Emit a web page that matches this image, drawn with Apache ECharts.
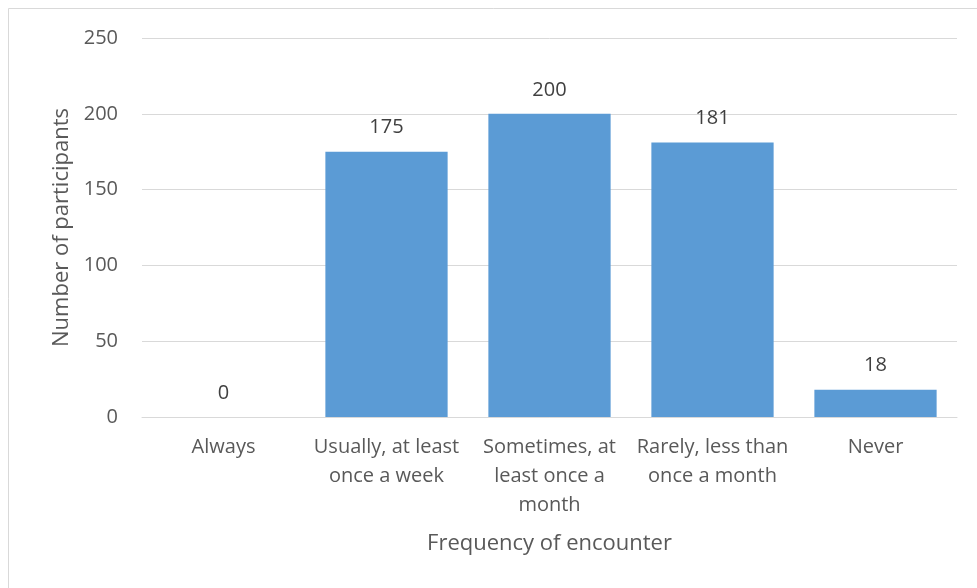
<!DOCTYPE html>
<html>
<head>
<meta charset="utf-8">
<script src="https://cdn.jsdelivr.net/npm/echarts@6/dist/echarts.min.js"></script>
<style>
  html, body { margin: 0; padding: 0; background: #fff; }
  #chart { width: 977px; height: 588px; }
</style>
</head>
<body>
<div id="chart"></div>
<script>
// Survey responses: how often participants encountered the situation
const categories = [
  'Always',
  'Usually, at least\nonce a week',
  'Sometimes, at\nleast once a\nmonth',
  'Rarely, less than\nonce a month',
  'Never'
];
const participants = [0, 175, 200, 181, 18];
const yTicks = { min: 0, max: 250, interval: 50 };

const font = 'Open Sans, Noto Sans, sans-serif';
const chart = echarts.init(document.getElementById('chart'));

chart.setOption({
  animation: false,
  backgroundColor: '#ffffff',
  graphic: [{
    type: 'rect',
    shape: { x: 8.5, y: 8.5, width: 980, height: 600 },
    style: { fill: 'none', stroke: '#D9D9D9', lineWidth: 1 },
    silent: true
  }],
  grid: { left: 142, right: 20, top: 38, bottom: 171, containLabel: false },
  xAxis: {
    type: 'category',
    data: categories,
    name: 'Frequency of encounter',
    nameLocation: 'middle',
    nameGap: 116,
    nameTextStyle: { fontFamily: font, fontSize: 22, color: '#595959' },
    axisLine: { show: true, lineStyle: { color: '#D9D9D9', width: 1 } },
    axisTick: { show: false },
    axisLabel: {
      interval: 0,
      margin: 16,
      fontFamily: font,
      fontSize: 20,
      color: '#595959',
      lineHeight: 29,
      verticalAlign: 'top'
    }
  },
  yAxis: {
    type: 'value',
    min: yTicks.min,
    max: yTicks.max,
    interval: yTicks.interval,
    name: 'Number of participants',
    nameLocation: 'middle',
    nameGap: 66,
    nameRotate: 90,
    nameTextStyle: { fontFamily: font, fontSize: 22, color: '#595959' },
    axisLine: { show: false },
    axisTick: { show: false },
    axisLabel: { margin: 24, fontFamily: font, fontSize: 20, color: '#595959' },
    splitLine: { lineStyle: { color: '#D9D9D9', width: 1 } }
  },
  series: [{
    type: 'bar',
    data: participants,
    barCategoryGap: '25%',
    itemStyle: { color: '#5B9BD5' },
    label: {
      show: true,
      position: 'top',
      distance: 14,
      fontFamily: font,
      fontSize: 20,
      color: '#404040'
    }
  }]
});
</script>
</body>
</html>
